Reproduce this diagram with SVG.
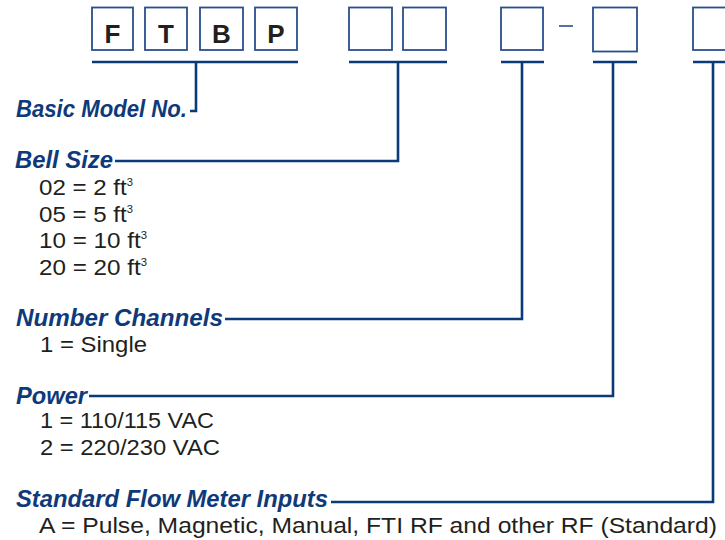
<svg xmlns="http://www.w3.org/2000/svg" width="725" height="540" viewBox="0 0 725 540">
<style>
.box{fill:#fff;stroke:#2a4f8c;stroke-width:1.8}
.ltr{font-family:"Liberation Sans",Arial,sans-serif;font-weight:bold;font-size:26px;fill:#231f20;text-anchor:middle}
.hd{font-family:"Liberation Sans",Arial,sans-serif;font-weight:bold;font-style:italic;font-size:23px;fill:#0f3a7a}
.bd{font-family:"Liberation Sans",Arial,sans-serif;font-size:22.5px;fill:#231f20}
.sup{font-size:10.5px}
.ln{fill:none;stroke:#0b3a78;stroke-width:2.6}
.dash{stroke:#2a4f8c;stroke-width:1.6}
</style>
<rect width="725" height="540" fill="#fff"/>
<g id="code">
  <g id="box-F"><rect class="box" x="92" y="7.5" width="41" height="42.5"/><text class="ltr" x="112.5" y="43">F</text></g>
  <g id="box-T"><rect class="box" x="145" y="7.5" width="42" height="42.5"/><text class="ltr" x="166" y="43">T</text></g>
  <g id="box-B"><rect class="box" x="200" y="7.5" width="43" height="42.5"/><text class="ltr" x="221.5" y="43">B</text></g>
  <g id="box-P"><rect class="box" x="255" y="7.5" width="42" height="42.5"/><text class="ltr" x="276" y="43">P</text></g>
  <g id="box-size1"><rect class="box" x="349" y="7.5" width="43" height="42.5"/></g>
  <g id="box-size2"><rect class="box" x="403" y="7.5" width="43" height="42.5"/></g>
  <g id="box-channels"><rect class="box" x="501" y="7.5" width="42" height="42.5"/></g>
  <line id="dash" class="dash" x1="559" y1="26" x2="573" y2="26"/>
  <g id="box-power"><rect class="box" x="593" y="7.5" width="44" height="44"/></g>
  <g id="box-inputs"><rect class="box" x="693" y="7.5" width="44" height="42.5"/></g>
</g>
<g id="connectors">
  <path class="ln" d="M92,62 H298 M196,62 V111 H190"/>
  <path class="ln" d="M349,62 H447 M398,62 V161 H115"/>
  <path class="ln" d="M501,62 H544 M522,62 V319 H225"/>
  <path class="ln" d="M593,62 H637 M613,62 V396 H89"/>
  <path class="ln" d="M693,62 H725 M713,62 V502 H331"/>
</g>
<g id="basic-model">
  <text class="hd" x="16" y="117" textLength="171" lengthAdjust="spacingAndGlyphs">Basic Model No.</text>
</g>
<g id="bell-size">
  <text class="hd" x="15" y="168" textLength="98" lengthAdjust="spacingAndGlyphs">Bell Size</text>
  <text class="bd" x="39" y="195" textLength="94" lengthAdjust="spacingAndGlyphs">02 = 2 ft<tspan class="sup" dy="-9">3</tspan></text>
  <text class="bd" x="39" y="221.5" textLength="94" lengthAdjust="spacingAndGlyphs">05 = 5 ft<tspan class="sup" dy="-9">3</tspan></text>
  <text class="bd" x="39" y="248" textLength="108" lengthAdjust="spacingAndGlyphs">10 = 10 ft<tspan class="sup" dy="-9">3</tspan></text>
  <text class="bd" x="39" y="275" textLength="108" lengthAdjust="spacingAndGlyphs">20 = 20 ft<tspan class="sup" dy="-9">3</tspan></text>
</g>
<g id="number-channels">
  <text class="hd" x="16" y="326" textLength="207" lengthAdjust="spacingAndGlyphs">Number Channels</text>
  <text class="bd" x="40" y="352" textLength="107" lengthAdjust="spacingAndGlyphs">1 = Single</text>
</g>
<g id="power">
  <text class="hd" x="16" y="404" textLength="71" lengthAdjust="spacingAndGlyphs">Power</text>
  <text class="bd" x="40" y="428" textLength="174" lengthAdjust="spacingAndGlyphs">1 = 110/115 VAC</text>
  <text class="bd" x="40" y="455" textLength="180" lengthAdjust="spacingAndGlyphs">2 = 220/230 VAC</text>
</g>
<g id="flow-inputs">
  <text class="hd" x="16" y="507" textLength="312" lengthAdjust="spacingAndGlyphs">Standard Flow Meter Inputs</text>
  <text class="bd" x="39" y="533" textLength="678" lengthAdjust="spacingAndGlyphs">A = Pulse, Magnetic, Manual, FTI RF and other RF (Standard)</text>
</g>
</svg>
